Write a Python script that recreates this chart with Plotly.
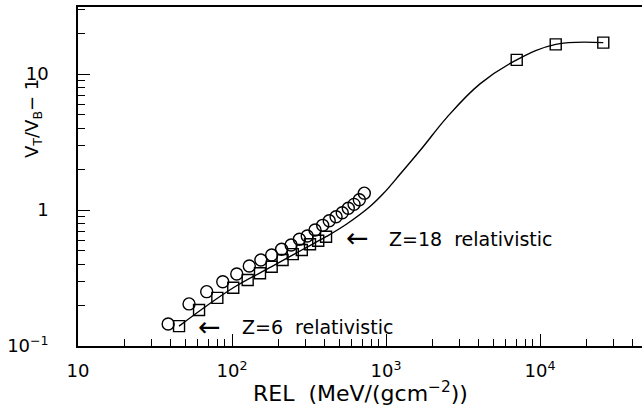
import numpy as np
import plotly.graph_objects as go

# Z=18 squares
sq_x = [45.3, 61.1, 80.3, 101.9, 126.4, 152, 181, 213, 248, 284, 321, 363, 408, 7060, 12650, 25760]
sq_y = [0.140, 0.184, 0.226, 0.268, 0.306, 0.343, 0.383, 0.429, 0.474, 0.508, 0.560, 0.594, 0.636, 12.7, 16.5, 17.0]

# circles
ci_x = [38.5, 52.6, 68.5, 87.1, 107.4, 129.5, 154, 181, 210, 242, 274, 308, 346, 388, 428, 474, 520, 569, 620, 671, 723]
ci_y = [0.145, 0.204, 0.251, 0.297, 0.338, 0.387, 0.429, 0.467, 0.514, 0.553, 0.609, 0.644, 0.713, 0.771, 0.834, 0.893, 0.955, 1.03, 1.10, 1.19, 1.33]

# theory curve
cu_x = [45.3, 101.9, 181, 284, 408, 556, 787, 961, 1233, 1706, 2479, 4077, 7060, 12650, 25760]
cu_y = [0.140, 0.268, 0.383, 0.508, 0.636, 0.789, 1.06, 1.32, 1.83, 2.83, 4.78, 8.46, 12.7, 16.5, 17.0]

x_tickvals = [10, 100, 1000, 10000]
x_ticktext = ["10", "10<sup>2</sup>", "10<sup>3</sup>", "10<sup>4</sup>"]
y_tickvals = [0.1, 1, 10]
y_ticktext = ["10<sup>\u22121</sup>", "1", "10"]

FONT = "DejaVu Sans"

fig = go.Figure()
fig.add_trace(go.Scatter(x=cu_x, y=cu_y, mode="lines",
                         line=dict(color="black", width=1.4, shape="spline", smoothing=1.1),
                         showlegend=False, hoverinfo="skip"))
fig.add_trace(go.Scatter(x=sq_x, y=sq_y, mode="markers",
                         marker=dict(symbol="square-open", size=11, color="black", line=dict(width=1.4)),
                         showlegend=False))
fig.add_trace(go.Scatter(x=ci_x, y=ci_y, mode="markers",
                         marker=dict(symbol="circle-open", size=12, color="black", line=dict(width=1.4)),
                         showlegend=False))

L, R, T, B = 78, 0, 7, 61
W, H = 642, 407
pw, ph = W - L - R, H - T - B

fig.update_layout(
    width=W, height=H,
    margin=dict(l=L, r=R, t=T, b=B, pad=0),
    paper_bgcolor="white", plot_bgcolor="white",
    font=dict(family=FONT, size=18, color="black"),
    showlegend=False,
)
fig.update_xaxes(
    type="log", range=[1, 1 + 564 / 154],
    tickvals=x_tickvals, ticktext=x_ticktext,
    ticks="inside", ticklen=12, tickwidth=1.3, tickcolor="black",
    minor=dict(ticks="inside", ticklen=7, tickwidth=1.3, tickcolor="black", dtick="D1", showgrid=False),
    showline=True, linecolor="black", linewidth=1.5, mirror=True,
    showgrid=False, zeroline=False,
    tickfont=dict(family=FONT, size=18),
    ticklabelstandoff=8,
)
fig.update_yaxes(
    type="log", range=[-1, -1 + 339 / 136],
    tickvals=y_tickvals, ticktext=y_ticktext,
    ticks="inside", ticklen=12, tickwidth=1.3, tickcolor="black",
    minor=dict(ticks="inside", ticklen=7, tickwidth=1.3, tickcolor="black", dtick="D1", showgrid=False),
    showline=True, linecolor="black", linewidth=1.5,
    showgrid=False, zeroline=False,
    tickfont=dict(family=FONT, size=18),
    ticklabelstandoff=24,
)

def px_x(p):
    return (p - L) / pw

def px_y(p):
    return (H - B - p) / ph

annots = [
    dict(text="\u2190", x=np.log10(535), y=np.log10(0.627), xref="x", yref="y",
         xanchor="left", yanchor="middle", font=dict(family=FONT, size=27)),
    dict(text="Z=18  relativistic", x=np.log10(1014), y=np.log10(0.617), xref="x", yref="y",
         xanchor="left", yanchor="middle", font=dict(family=FONT, size=19)),
    dict(text="\u2190", x=np.log10(58), y=np.log10(0.139), xref="x", yref="y",
         xanchor="left", yanchor="middle", font=dict(family=FONT, size=27)),
    dict(text="Z=6  relativistic", x=np.log10(112.7), y=np.log10(0.1368), xref="x", yref="y",
         xanchor="left", yanchor="middle", font=dict(family=FONT, size=19)),
    dict(text="REL  (MeV/(gcm<sup>\u22122</sup>))", x=0.5, y=px_y(392), xref="paper", yref="paper",
         xanchor="center", yanchor="middle", font=dict(family=FONT, size=22)),
    dict(text="V<sub>T</sub>/V<sub>B</sub>\u2212 1", x=px_x(33), y=px_y(119), xref="paper", yref="paper",
         xanchor="center", yanchor="middle", textangle=-90, font=dict(family=FONT, size=18)),
]
for a in annots:
    a["showarrow"] = False
    fig.add_annotation(**a)

fig.write_html("out.html")
